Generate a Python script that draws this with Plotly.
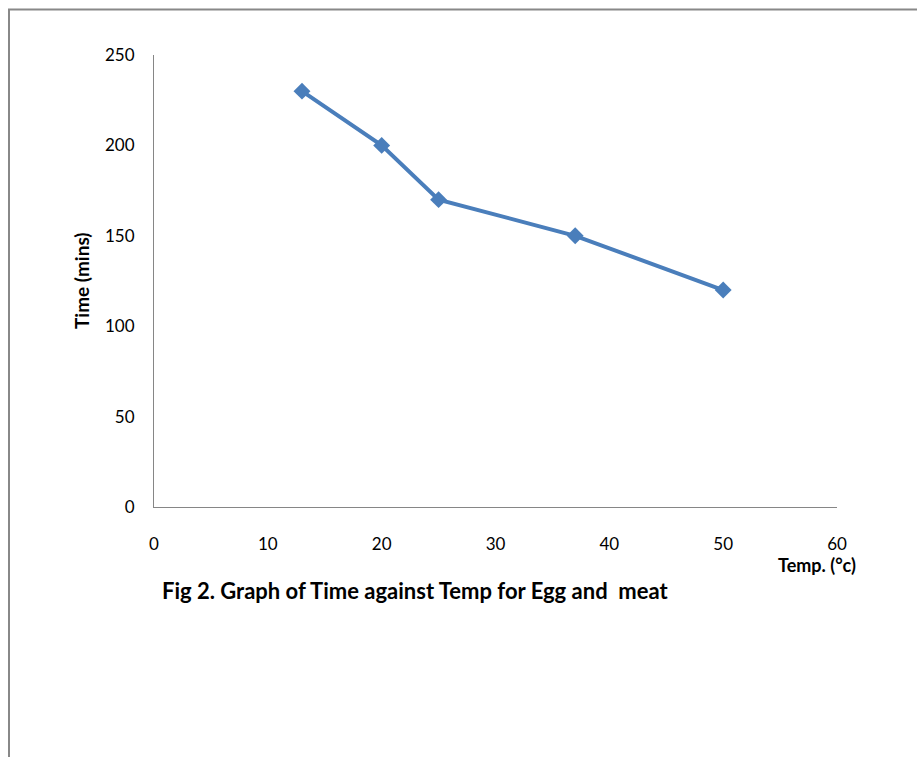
import plotly.graph_objects as go

temp = [13, 20, 25, 37, 50]
time_mins = [230, 200, 170, 150, 120]
x_ticks = [0, 10, 20, 30, 40, 50, 60]
y_ticks = [0, 50, 100, 150, 200, 250]

W, H = 917, 757
L, R, T, B = 154, 80, 55, 250
pw, ph = W - L - R, H - T - B

def px(xp):
    return (xp - L) / pw

def py(yp):
    return (H - B - yp) / ph

fig = go.Figure()
fig.add_trace(go.Scatter(
    x=temp, y=time_mins, mode="lines+markers",
    line=dict(color="#4A7EBB", width=4),
    marker=dict(symbol="diamond", size=13, color="#4A7EBB"),
    showlegend=False,
))

font = "Lato, Calibri, Carlito, sans-serif"
fig.update_layout(
    width=W, height=H,
    margin=dict(l=L, r=R, t=T, b=B),
    paper_bgcolor="white", plot_bgcolor="white",
    font=dict(family=font, size=17, color="#000000"),
    xaxis=dict(range=[0, 60], tickvals=x_ticks, showgrid=False, zeroline=False,
               showline=True, linecolor="#868686", linewidth=1, ticks="",
               ticklabelstandoff=22, tickfont=dict(size=17)),
    yaxis=dict(range=[0, 250], tickvals=y_ticks, showgrid=False, zeroline=False,
               showline=True, linecolor="#868686", linewidth=1, ticks="",
               ticklabelstandoff=15, tickfont=dict(size=17)),
    shapes=[dict(type="rect", xref="paper", yref="paper",
                 x0=px(9), x1=px(960), y0=py(800), y1=py(9.5),
                 line=dict(color="#888888", width=2), fillcolor="rgba(0,0,0,0)")],
    annotations=[
        dict(text="<b>Time (mins)</b>", xref="paper", yref="paper",
             x=px(81), y=py(281), textangle=-90, showarrow=False,
             font=dict(size=19), xanchor="center", yanchor="middle"),
        dict(text="<b>Temp. (°c)</b>", xref="paper", yref="paper",
             x=px(817), y=py(565), showarrow=False,
             font=dict(size=18), xanchor="center", yanchor="middle"),
        dict(text="<b>Fig 2. Graph of Time against Temp for Egg and  meat</b>",
             xref="paper", yref="paper", x=px(160), y=py(590), showarrow=False,
             font=dict(size=22), xanchor="left", yanchor="middle"),
    ],
)

fig.write_html("out.html")
